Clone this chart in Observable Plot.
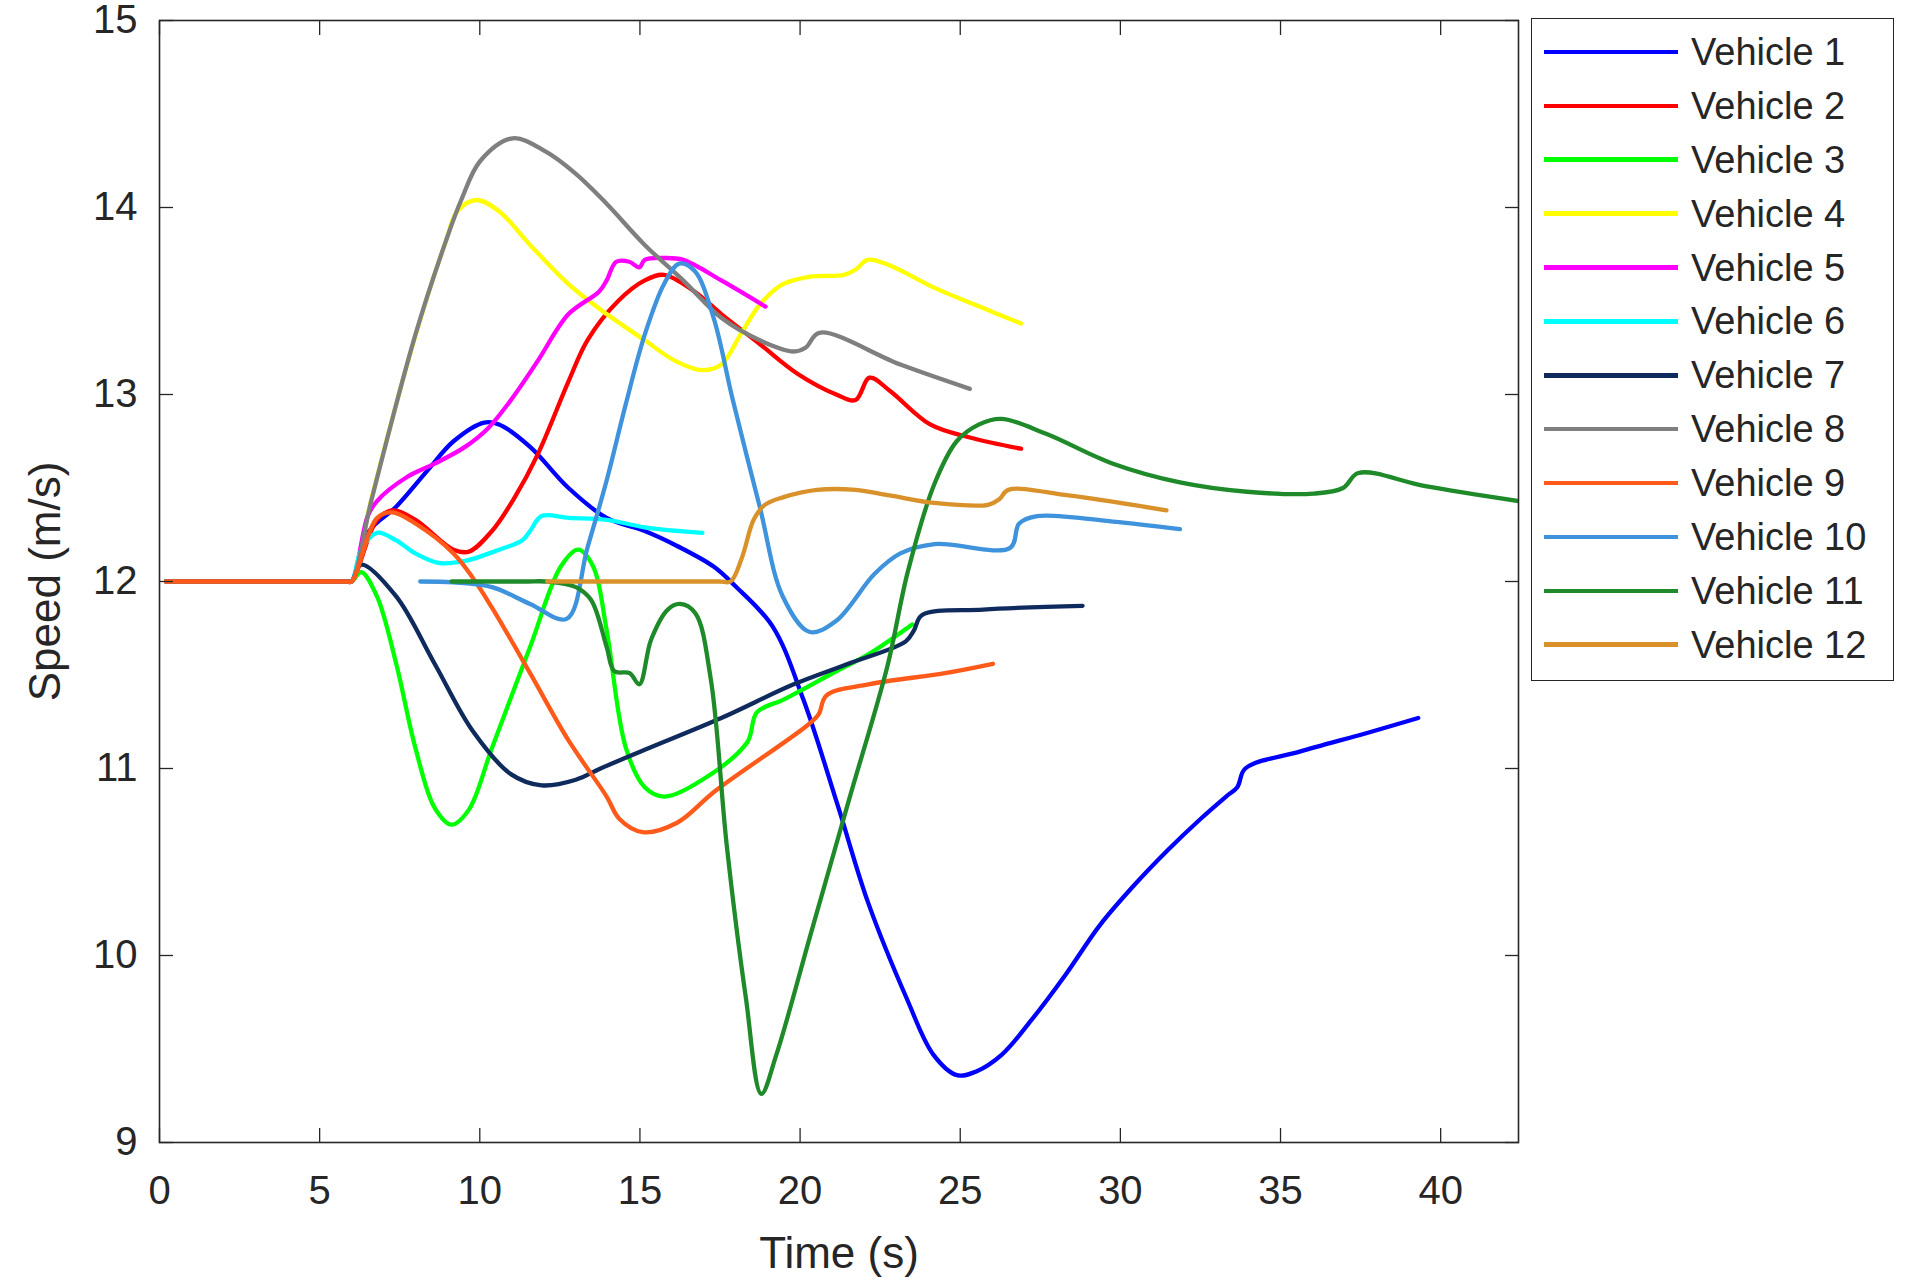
<!DOCTYPE html>
<html>
<head>
<meta charset="utf-8">
<script src="https://cdn.jsdelivr.net/npm/d3@7"></script>
<script src="https://cdn.jsdelivr.net/npm/@observablehq/plot@0.6"></script>
<style>
  html, body { margin: 0; padding: 0; background: #fff; }
  #wrap { position: relative; width: 1920px; height: 1286px; overflow: hidden; font-family: "Liberation Sans", Arial, Helvetica, sans-serif; }
  #chart svg { display: block; }
  g[aria-label$="axis label"] { font-size: 44px; }
  #legend { position: absolute; left: 1531px; top: 18px; width: 361px; height: 655px; border: 1.5px solid #262626; background: #fff; box-sizing: content-box; padding-top: 6px; }
  .row { display: flex; align-items: center; height: 53.9px; }
  .swatch { width: 134px; height: 4.5px; margin-left: 12px; }
  .lab { margin-left: 13px; font-size: 38px; color: #262626; line-height: 1; }
</style>
</head>
<body>
<div id="wrap">
  <div id="chart"></div>
  <div id="legend"></div>
</div>
<script>
// ---------- data ----------
const names = ["Vehicle 1","Vehicle 2","Vehicle 3","Vehicle 4","Vehicle 5","Vehicle 6","Vehicle 7","Vehicle 8","Vehicle 9","Vehicle 10","Vehicle 11","Vehicle 12"];
const colors = ["#0000ff","#ff0000","#00ff00","#ffff00","#ff00ff","#00ffff","#0f2a5c","#7f7f7f","#ff5a1a","#3f92dc","#1f8a2a","#d9912a"];
const xTicks = [0, 5, 10, 15, 20, 25, 30, 35, 40];
const yTicks = [9, 10, 11, 12, 13, 14, 15];

const v1_t = [0.2, 2.0, 4.0, 5.5, 5.85, 6.0, 6.55, 7.39, 8.35, 9.18, 10.14, 10.6, 11.57, 12.77, 13.96, 15.15, 16.16, 17.3, 17.95, 19.14, 20.1, 21.18, 22.13, 23.33, 24.16, 24.9, 25.5, 26.3, 27.2, 28.3, 29.35, 30.4, 31.46, 32.5, 33.3, 33.65, 33.9, 35.6, 37.7, 39.3];
const v1_v = [12, 12, 12, 12, 12, 12, 12.27, 12.40, 12.59, 12.75, 12.85, 12.84, 12.72, 12.5, 12.34, 12.27, 12.19, 12.08, 11.98, 11.76, 11.37, 10.80, 10.28, 9.77, 9.47, 9.36, 9.38, 9.47, 9.65, 9.9, 10.16, 10.37, 10.56, 10.73, 10.85, 10.9, 11.0, 11.09, 11.19, 11.27];

const v2_t = [0.2, 2.0, 4.0, 5.5, 5.85, 6.0, 6.79, 7.27, 7.99, 9.18, 9.66, 10.38, 11.09, 11.81, 12.77, 13.36, 14.32, 15.15, 15.75, 16.71, 17.54, 18.74, 19.93, 21.13, 21.73, 22.17, 22.8, 24.06, 25.3, 26.9];
const v2_v = [12, 12, 12, 12, 12, 12, 12.33, 12.38, 12.33, 12.17, 12.16, 12.27, 12.45, 12.68, 13.07, 13.29, 13.50, 13.61, 13.64, 13.55, 13.43, 13.27, 13.11, 13.0, 12.97, 13.09, 13.02, 12.84, 12.77, 12.71];

const v3_t = [0.2, 2.0, 4.0, 5.5, 5.85, 6.0, 6.3, 6.79, 7.39, 7.99, 8.59, 9.12, 9.66, 10.38, 11.57, 12.53, 13.07, 13.54, 13.96, 14.56, 15.15, 15.75, 16.95, 18.35, 18.65, 19.5, 21.13, 22.13, 23.5];
const v3_v = [12, 12, 12, 12, 12, 12, 12.05, 11.92, 11.56, 11.11, 10.79, 10.70, 10.78, 11.11, 11.65, 12.08, 12.17, 12.08, 11.74, 11.11, 10.90, 10.85, 10.94, 11.14, 11.30, 11.37, 11.52, 11.61, 11.77];

const v4_t = [0.2, 2.0, 4.0, 5.5, 5.85, 6.0, 6.6, 8.0, 8.94, 9.3, 9.9, 10.6, 11.57, 12.77, 13.96, 15.15, 16.1, 16.95, 17.54, 18.14, 18.74, 19.46, 20.3, 21.37, 21.75, 22.1, 22.8, 24.2, 25.6, 26.9];
const v4_v = [12, 12, 12, 12, 12, 12, 12.43, 13.32, 13.82, 13.98, 14.04, 13.98, 13.80, 13.59, 13.43, 13.29, 13.18, 13.13, 13.16, 13.32, 13.48, 13.59, 13.63, 13.64, 13.67, 13.72, 13.69, 13.57, 13.47, 13.38];

const v5_t = [0.2, 2.0, 4.0, 5.5, 5.85, 6.0, 6.5, 6.79, 7.74, 8.59, 9.54, 10.26, 10.97, 11.81, 12.77, 13.72, 13.96, 14.26, 14.67, 14.98, 15.15, 15.75, 16.35, 17.54, 18.92];
const v5_v = [12, 12, 12, 12, 12, 12, 12.35, 12.43, 12.56, 12.63, 12.72, 12.82, 12.97, 13.18, 13.43, 13.55, 13.61, 13.71, 13.71, 13.68, 13.72, 13.73, 13.72, 13.61, 13.47];

const v6_t = [0.2, 2.0, 4.0, 5.5, 5.85, 6.0, 6.3, 6.79, 7.39, 7.99, 8.7, 9.54, 10.6, 11.33, 11.57, 11.93, 12.77, 13.96, 15.15, 16.95];
const v6_v = [12, 12, 12, 12, 12, 12, 12.17, 12.26, 12.22, 12.15, 12.10, 12.11, 12.17, 12.22, 12.27, 12.35, 12.34, 12.33, 12.29, 12.26];

const v7_t = [0.2, 2.0, 4.0, 5.5, 5.85, 6.0, 6.3, 7.39, 8.59, 9.78, 10.97, 11.93, 13.0, 13.77, 15.15, 17.54, 19.8, 21.5, 23.3, 23.56, 23.8, 25.72, 28.82];
const v7_v = [12, 12, 12, 12, 12, 12, 12.09, 11.92, 11.56, 11.2, 10.97, 10.91, 10.94, 11.0, 11.1, 11.27, 11.45, 11.56, 11.68, 11.74, 11.82, 11.85, 11.87];

const v8_t = [0.2, 2.0, 4.0, 5.5, 5.85, 6.0, 6.61, 7.99, 8.94, 9.42, 10.02, 11.03, 12.05, 13.0, 13.96, 15.15, 16.35, 17.54, 18.74, 19.8, 20.17, 20.6, 23.13, 25.3];
const v8_v = [12, 12, 12, 12, 12, 12, 12.43, 13.32, 13.82, 14.04, 14.25, 14.37, 14.30, 14.18, 14.02, 13.80, 13.61, 13.41, 13.29, 13.23, 13.25, 13.33, 13.16, 13.03];

const v9_t = [0.2, 2.0, 4.0, 5.5, 5.85, 6.0, 6.79, 7.27, 7.99, 9.18, 9.78, 10.38, 11.57, 12.77, 13.96, 14.36, 15.08, 16.16, 17.35, 20.22, 20.58, 20.82, 22.13, 24.52, 26.02];
const v9_v = [12, 12, 12, 12, 12, 12, 12.34, 12.37, 12.31, 12.15, 12.02, 11.86, 11.51, 11.15, 10.85, 10.73, 10.66, 10.71, 10.88, 11.23, 11.29, 11.39, 11.45, 11.51, 11.56];

const v10_t = [8.14, 9.18, 10.38, 11.57, 12.71, 13.36, 13.96, 14.56, 15.15, 15.75, 16.23, 16.71, 17.3, 17.9, 18.74, 19.46, 20.3, 21.13, 22.32, 23.13, 24.2, 26.56, 26.84, 27.4, 29.77, 31.86];
const v10_v = [12.0, 11.995, 11.97, 11.88, 11.8, 12.18, 12.54, 12.95, 13.32, 13.59, 13.70, 13.66, 13.41, 12.97, 12.40, 11.92, 11.73, 11.79, 12.04, 12.15, 12.2, 12.18, 12.31, 12.35, 12.32, 12.28];

const v11_t = [9.12, 10.5, 11.5, 12.05, 13.0, 13.48, 13.96, 14.2, 14.68, 14.98, 15.35, 15.87, 16.25, 16.73, 17.21, 17.71, 18.31, 18.79, 19.26, 20.34, 21.54, 22.73, 23.36, 24.19, 24.89, 25.59, 26.28, 27.68, 29.77, 31.86, 33.95, 36.04, 36.95, 37.43, 39.52, 42.43];
const v11_v = [12.0, 12.0, 12.0, 12.0, 11.97, 11.9, 11.65, 11.52, 11.51, 11.45, 11.69, 11.85, 11.88, 11.83, 11.48, 10.59, 9.77, 9.26, 9.47, 10.12, 10.84, 11.55, 12.05, 12.52, 12.75, 12.84, 12.87, 12.79, 12.63, 12.53, 12.48, 12.47, 12.5, 12.58, 12.51, 12.43];

const v12_t = [12.1, 13.5, 15.0, 16.5, 17.5, 17.83, 18.19, 18.55, 18.9, 19.46, 20.53, 21.73, 22.8, 24.19, 25.87, 26.22, 26.5, 28.38, 31.44];
const v12_v = [12.0, 12.0, 12.0, 12.0, 12.0, 12.0, 12.13, 12.33, 12.41, 12.45, 12.49, 12.49, 12.46, 12.42, 12.41, 12.44, 12.49, 12.46, 12.38];

// ---------- build table ----------
const series = [
  [v1_t, v1_v], [v2_t, v2_v], [v3_t, v3_v], [v4_t, v4_v], [v5_t, v5_v], [v6_t, v6_v],
  [v7_t, v7_v], [v8_t, v8_v], [v9_t, v9_v], [v10_t, v10_v], [v11_t, v11_v], [v12_t, v12_v]
];
const rows = [];
series.forEach(([ts, vs], i) => ts.forEach((t, j) => rows.push({name: names[i], t, v: vs[j]})));

const chart = Plot.plot({
  width: 1920,
  height: 1286,
  marginLeft: 159,
  marginRight: 402,
  marginTop: 20,
  marginBottom: 144,
  style: {fontFamily: "'Liberation Sans', Arial, Helvetica, sans-serif", color: "#262626", background: "#fff", overflow: "visible"},
  x: {domain: [0, 42.43]},
  y: {domain: [9, 15]},
  color: {domain: names, range: colors},
  marks: [
    Plot.line(rows, {x: "t", y: "v", z: "name", stroke: "name", strokeWidth: 4.3, curve: "catmull-rom", clip: true}),
    Plot.frame({stroke: "#262626", strokeWidth: 1.6}),
    Plot.axisX({anchor: "bottom", ticks: xTicks, tickFormat: "d", tickSize: -14, tickPadding: 47, fontSize: 40, stroke: "#262626", strokeWidth: 1.3, label: "Time (s)", labelAnchor: "center", labelArrow: "none", labelOffset: 125}),
    Plot.axisX({anchor: "top", ticks: xTicks, tickSize: -14, tickFormat: () => "", stroke: "#262626", strokeWidth: 1.3, label: null}),
    Plot.axisY({anchor: "left", ticks: yTicks, tickFormat: "d", tickSize: -14, tickPadding: 36, fontSize: 40, stroke: "#262626", strokeWidth: 1.3, label: "Speed (m/s)", labelAnchor: "center", labelArrow: "none", labelOffset: 131}),
    Plot.axisY({anchor: "right", ticks: yTicks, tickSize: -14, tickFormat: () => "", stroke: "#262626", strokeWidth: 1.3, label: null})
  ]
});
document.getElementById("chart").appendChild(chart);

// ---------- legend ----------
const legend = document.getElementById("legend");
names.forEach((n, i) => {
  const row = document.createElement("div");
  row.className = "row";
  const sw = document.createElement("div");
  sw.className = "swatch";
  sw.style.background = colors[i];
  const lab = document.createElement("span");
  lab.className = "lab";
  lab.textContent = n;
  row.appendChild(sw);
  row.appendChild(lab);
  legend.appendChild(row);
});
</script>
</body>
</html>
